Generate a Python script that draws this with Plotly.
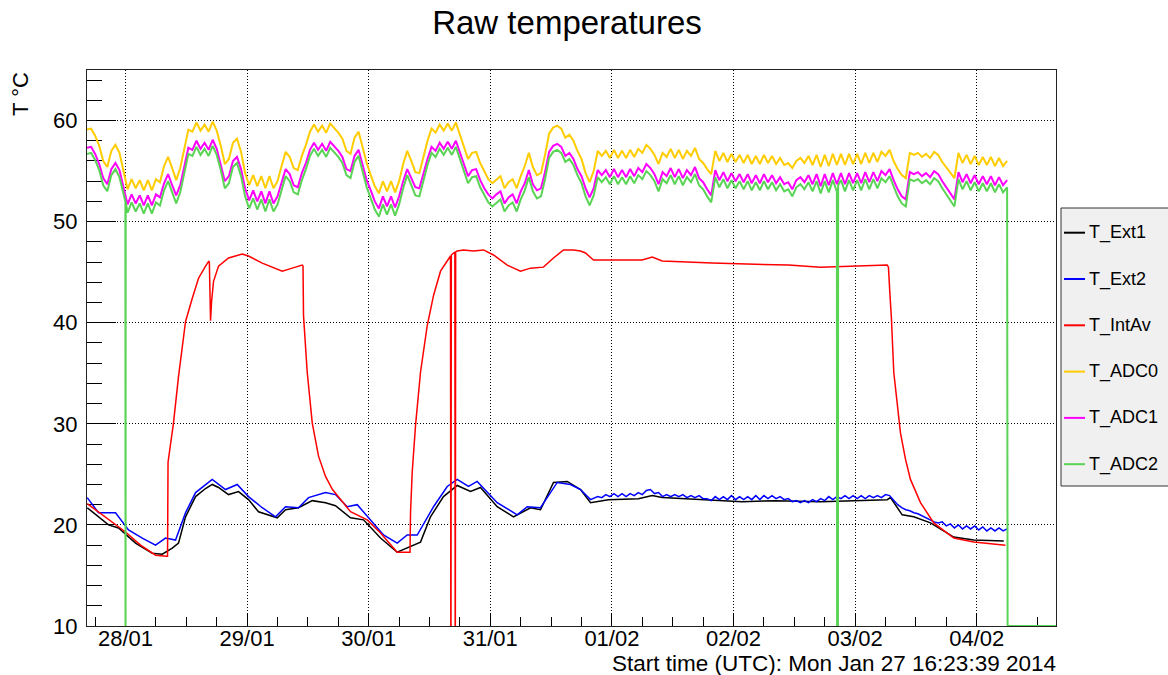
import numpy as np
import pandas as pd
import plotly.graph_objects as go

# ---------------- time reference ----------------
ORIGIN = pd.Timestamp("2014-01-28 00:00:00")   # hour 0 of every hour list below
START = pd.Timestamp("2014-01-27 16:23:39")
END_H = 183.65

# ADC read-out clock (hours from ORIGIN)
ADC_T0_H = -7.6
ADC_STEP_H = 0.8

T_ADC0 = [
    59.1, 59.2, 58.5, 57.5, 56.0, 55.4, 57.0, 57.6, 56.8, 55.0,
    53.2, 54.2, 53.3, 54.1, 53.1, 54.1, 53.1, 54.2, 53.9, 55.5,
    56.4, 55.3, 54.1, 55.3, 57.2, 59.1, 58.9, 59.8, 59.0, 59.6,
    58.9, 59.9, 59.0, 57.5, 55.7, 56.2, 57.8, 58.2, 56.9, 54.8,
    53.6, 54.6, 53.5, 54.5, 53.3, 54.5, 53.3, 54.0, 55.5, 56.9,
    56.4, 55.3, 55.1, 56.5, 57.6, 58.9, 59.6, 58.9, 59.5, 58.8,
    59.7, 59.3, 58.8, 58.2, 57.0, 56.7, 58.3, 58.9, 57.3, 55.8,
    54.6, 53.5, 52.8, 54.0, 53.0, 54.0, 52.9, 54.0, 55.7, 57.0,
    56.0, 54.9, 54.8, 56.5, 58.0, 59.2, 58.8, 59.6, 59.0, 59.7,
    59.0, 59.8, 58.6, 57.5, 56.2, 56.8, 56.9, 55.8, 55.0, 54.2,
    53.8, 54.2, 54.5, 53.3, 53.9, 54.2, 53.3, 54.5, 55.5, 56.8,
    55.4, 54.6, 54.8, 56.6, 58.7, 59.3, 59.5, 59.2, 58.3, 58.6,
    58.0, 57.0, 56.2, 54.8, 53.9, 55.0, 57.0, 56.5, 57.0, 56.3,
    57.1, 56.3, 57.0, 56.3, 57.1, 56.4, 57.2, 56.8, 57.6, 57.2,
    56.6, 55.7, 56.8, 56.4, 57.2, 56.3, 57.1, 56.2, 57.0, 56.5,
    57.3, 56.2, 55.8, 55.2, 54.7, 57.0, 56.0, 56.8, 55.9, 56.7,
    55.9, 56.6, 55.8, 56.6, 55.7, 56.5, 55.7, 56.6, 55.8, 56.5,
    55.7, 56.3, 55.6, 55.8, 55.3, 56.0, 56.3, 55.8, 56.5, 55.6,
    56.6, 55.4, 56.6, 55.5, 56.7, 55.6, 56.7, 55.6, 56.7, 55.7,
    56.7, 55.7, 56.8, 55.8, 56.8, 55.9, 56.9, 56.5, 57.1, 56.0,
    55.2, 54.6, 54.3, 56.8, 56.6, 56.8, 56.4, 56.7, 56.3, 56.9,
    56.6, 55.9, 55.4, 54.8, 54.3, 56.8, 55.8, 56.6, 55.7, 56.5,
    55.6, 56.4, 55.6, 56.4, 55.5, 56.3, 55.5, 56.0,
]

T_ADC1 = [
    57.3, 57.4, 56.7, 55.7, 54.3, 53.7, 55.2, 55.8, 55.1, 53.3,
    51.7, 52.7, 51.8, 52.6, 51.6, 52.6, 51.6, 52.7, 52.4, 53.8,
    54.7, 53.6, 52.6, 53.6, 55.4, 57.3, 57.1, 58.0, 57.2, 57.8,
    57.1, 58.1, 57.2, 55.7, 54.0, 54.5, 56.0, 56.4, 55.2, 53.3,
    52.1, 53.1, 52.0, 53.0, 51.8, 53.0, 51.8, 52.5, 53.8, 55.2,
    54.7, 53.6, 53.4, 54.8, 55.8, 57.1, 57.8, 57.1, 57.7, 57.0,
    57.9, 57.5, 57.0, 56.4, 55.2, 55.0, 56.5, 57.1, 55.5, 54.1,
    53.1, 52.0, 51.3, 52.5, 51.5, 52.5, 51.4, 52.5, 54.0, 55.2,
    54.3, 53.4, 53.3, 54.8, 56.2, 57.4, 57.0, 57.8, 57.2, 57.9,
    57.2, 58.0, 56.8, 55.7, 54.5, 55.1, 55.2, 54.1, 53.3, 52.7,
    52.3, 52.7, 53.0, 51.8, 52.4, 52.7, 51.8, 53.0, 53.8, 55.1,
    53.7, 53.1, 53.3, 54.9, 56.9, 57.5, 57.7, 57.4, 56.5, 56.8,
    56.2, 55.2, 54.5, 53.3, 52.4, 53.3, 55.1, 54.6, 55.1, 54.4,
    55.2, 54.4, 55.1, 54.4, 55.2, 54.5, 55.3, 54.9, 55.7, 55.3,
    54.7, 53.7, 54.9, 54.5, 55.3, 54.4, 55.2, 54.3, 55.1, 54.6,
    55.4, 54.3, 53.9, 53.2, 52.6, 55.1, 54.1, 54.9, 54.0, 54.8,
    54.0, 54.7, 53.9, 54.7, 53.8, 54.6, 53.8, 54.7, 53.9, 54.6,
    53.8, 54.4, 53.7, 53.9, 53.2, 54.1, 54.4, 53.9, 54.6, 53.7,
    54.7, 53.5, 54.7, 53.6, 54.8, 53.7, 54.8, 53.7, 54.8, 53.8,
    54.8, 53.8, 54.9, 53.9, 54.9, 54.0, 55.0, 54.6, 55.2, 54.1,
    53.2, 52.5, 52.2, 54.9, 54.7, 54.9, 54.5, 54.8, 54.4, 55.0,
    54.7, 54.0, 53.4, 52.7, 52.2, 54.9, 53.9, 54.7, 53.8, 54.6,
    53.7, 54.5, 53.7, 54.5, 53.6, 54.4, 53.6, 54.1,
]

T_ADC2 = [
    56.7, 56.8, 56.1, 55.1, 53.6, 53.0, 54.6, 55.2, 54.4, 52.6,
    50.9, 51.9, 51.0, 51.8, 50.8, 51.8, 50.8, 51.9, 51.6, 53.1,
    54.0, 52.9, 51.8, 52.9, 54.8, 56.7, 56.5, 57.4, 56.6, 57.2,
    56.5, 57.5, 56.6, 55.1, 53.3, 53.8, 55.4, 55.8, 54.5, 52.5,
    51.3, 52.3, 51.2, 52.2, 51.0, 52.2, 51.0, 51.7, 53.1, 54.5,
    54.0, 52.9, 52.7, 54.1, 55.2, 56.5, 57.2, 56.5, 57.1, 56.4,
    57.3, 56.9, 56.4, 55.8, 54.6, 54.3, 55.9, 56.5, 54.9, 53.4,
    52.3, 51.2, 50.5, 51.7, 50.7, 51.7, 50.6, 51.7, 53.3, 54.6,
    53.6, 52.6, 52.5, 54.1, 55.6, 56.8, 56.4, 57.2, 56.6, 57.3,
    56.6, 57.4, 56.2, 55.1, 53.8, 54.4, 54.5, 53.4, 52.6, 51.9,
    51.5, 51.9, 52.2, 51.0, 51.6, 51.9, 51.0, 52.2, 53.1, 54.4,
    53.0, 52.3, 52.5, 54.2, 56.3, 56.9, 57.1, 56.8, 55.9, 56.2,
    55.6, 54.6, 53.8, 52.5, 51.6, 52.6, 54.4, 53.9, 54.4, 53.7,
    54.5, 53.7, 54.4, 53.7, 54.5, 53.8, 54.6, 54.2, 55.0, 54.6,
    54.0, 53.0, 54.2, 53.8, 54.6, 53.7, 54.5, 53.6, 54.4, 53.9,
    54.7, 53.6, 53.2, 52.5, 51.9, 54.4, 53.4, 54.2, 53.3, 54.1,
    53.3, 54.0, 53.2, 54.0, 53.1, 53.9, 53.1, 54.0, 53.2, 53.9,
    53.1, 53.7, 53.0, 53.2, 52.5, 53.4, 53.7, 53.2, 53.9, 53.0,
    54.0, 52.8, 54.0, 52.9, 54.1, 53.0, 54.1, 53.0, 54.1, 53.1,
    54.1, 53.1, 54.2, 53.2, 54.2, 53.3, 54.3, 53.9, 54.5, 53.4,
    52.5, 51.8, 51.5, 54.2, 54.0, 54.2, 53.8, 54.1, 53.7, 54.3,
    54.0, 53.3, 52.7, 52.0, 51.5, 54.2, 53.2, 54.0, 53.1, 53.9,
    53.0, 53.8, 53.0, 53.8, 52.9, 53.7, 52.9, 53.4,
]

# extra ADC2 read-outs: the two off-scale drops (values below the axis)
ADC2_EXTRA_H = [-0.03, 0.0, 0.03, 140.45, 140.6, 140.65]
ADC2_EXTRA_V = [52.0, 0.0, 51.9, 0.0, 0.0, 53.6]
# ADC2 after the end of the run: pinned at the bottom of the scale
ADC2_TAIL_H = [174.1, 185.0]
ADC2_TAIL_V = [10.0, 10.0]

EXT1_H = [-7.56, -5.33, -3.36, -1.38, 1.97, 5.27, 7.24, 9.22, 10.46, 11.84,
          13.82, 15.79, 17.11, 18.35, 20.33, 22.3, 24.27, 26.25, 28.22, 29.94,
          31.58, 34.14, 36.85, 39.47, 41.44, 44.41, 46.97, 50.33, 53.62, 56.25,
          58.22, 60.19, 62.76, 65.46, 68.09, 70.06, 73.36, 76.57, 79.93, 81.9,
          84.47, 87.17, 89.8, 91.77, 95.32, 101.24, 103.95, 105.92, 115.06, 121.71,
          128.28, 137.16, 150.33, 150.98, 153.29, 155.58, 158.87, 163.47, 167.42, 173.34]
EXT1_V = [21.7, 20.8, 20.0, 19.7, 18.2, 17.2, 17.1, 17.7, 18.2, 20.8,
          22.8, 23.6, 24.0, 23.7, 23.0, 23.3, 22.5, 21.3, 21.0, 20.7,
          21.5, 21.7, 22.4, 22.2, 21.9, 20.7, 20.5, 18.7, 17.3, 17.9,
          18.3, 20.8, 22.8, 23.9, 23.3, 23.7, 21.8, 20.8, 21.7, 21.5,
          24.2, 24.3, 23.5, 22.2, 22.5, 22.6, 22.9, 22.7, 22.5, 22.3,
          22.4, 22.3, 22.5, 22.7, 21.0, 20.8, 20.2, 18.8, 18.5, 18.4]

EXT2_H = [-7.56, -5.33, -1.97, 0.59, 3.3, 5.92, 7.89, 9.87, 11.84, 13.82,
          17.11, 19.74, 22.04, 24.27, 26.98, 29.6, 31.58, 34.14, 36.12, 39.47,
          41.44, 43.75, 45.73, 48.35, 50.92, 53.62, 55.59, 57.57, 60.79, 63.49,
          65.46, 67.69, 69.41, 73.36, 77.3, 79.28, 81.9, 85.2, 87.82, 89.8, 91.77]
EXT2_V = [22.7, 21.2, 21.2, 19.5, 18.7, 18.0, 18.7, 18.5, 21.2, 23.2,
          24.5, 23.5, 24.0, 22.8, 21.7, 20.8, 21.8, 21.7, 22.7, 23.2,
          23.0, 21.8, 22.0, 20.5, 19.0, 18.2, 19.0, 19.0, 21.8, 23.8,
          24.5, 23.8, 24.3, 22.2, 21.0, 21.8, 21.7, 24.2, 24.0, 23.5, 22.5]
# later Ext2 values, read out on the ADC clock from sample 126 on
EXT2_LATE_FIRST = 126
EXT2_LATE_V = [
    22.8, 22.7, 23.0, 22.8, 23.1, 22.8, 23.1, 22.8, 23.1, 22.9,
    23.2, 23.0, 23.4, 23.5, 23.1, 23.2, 22.8, 23.0, 22.8, 23.0,
    22.8, 23.0, 22.7, 22.9, 22.7, 22.9, 22.6, 22.6, 22.4, 22.8,
    22.5, 22.8, 22.5, 22.9, 22.5, 22.8, 22.5, 22.8, 22.5, 22.9,
    22.5, 22.9, 22.6, 22.9, 22.6, 22.8, 22.5, 22.6, 22.3, 22.4,
    22.2, 22.4, 22.2, 22.5, 22.3, 22.6, 22.4, 22.8, 22.5, 22.8,
    22.6, 22.9, 22.6, 22.9, 22.6, 22.9, 22.6, 22.9, 22.7, 22.9,
    22.7, 23.0, 22.9, 22.4, 22.0, 21.7, 21.5, 21.4, 21.2, 21.1,
    20.9, 20.7, 20.5, 20.3, 20.2, 20.3, 19.9, 20.1, 19.7, 20.0,
    19.6, 19.9, 19.6, 19.9, 19.5, 19.8, 19.4, 19.7, 19.4, 19.7,
    19.4, 19.6,
]

INTAV_H = [-7.56, 0.0, 2.96, 5.92, 8.09, 8.29, 8.39, 9.47, 10.46, 11.84,
           13.16, 14.41, 15.79, 16.44, 16.54, 16.78, 16.97, 17.37, 18.35, 20.33,
           23.03, 24.27, 26.98, 30.93, 32.9, 34.87, 35.03, 35.13, 35.86, 36.85,
           38.09, 39.47, 40.85, 44.41, 47.7, 50.33, 53.62, 55.85, 56.15, 56.25,
           56.58, 57.23, 58.22, 59.54, 60.79, 62.17, 64.14, 64.22, 64.3, 65.0,
           65.08, 65.16, 65.46, 66.71, 68.68, 70.65, 72.63, 75.33, 77.96, 79.93,
           82.49, 84.47, 86.44, 88.41, 89.8, 90.78, 92.36, 101.97, 103.95, 105.92,
           109.87, 115.79, 130.85, 134.2, 137.16, 150.33, 150.58, 150.84, 151.17, 151.63,
           152.42, 152.95, 153.94, 154.92, 156.9, 159.52, 163.47, 167.42, 173.67]
INTAV_V = [22.1, 19.3, 18.0, 17.0, 16.9, 16.9, 26.2, 30.1, 34.7, 40.1,
           42.4, 44.4, 45.6, 46.1, 46.0, 40.2, 42.0, 44.1, 45.6, 46.4,
           46.8, 46.6, 45.9, 45.1, 45.4, 45.7, 45.6, 40.7, 35.1, 30.1,
           26.8, 24.8, 23.5, 21.3, 20.5, 19.2, 17.3, 17.3, 17.3, 21.2,
           25.2, 29.8, 35.1, 39.7, 42.7, 45.1, 46.6, 0.0, 46.7, 47.0,
           0.0, 47.0, 47.1, 47.2, 47.1, 47.2, 46.7, 45.7, 45.1, 45.4,
           45.5, 46.4, 47.2, 47.2, 47.1, 46.9, 46.2, 46.2, 46.5, 46.1,
           46.0, 45.9, 45.7, 45.6, 45.5, 45.7, 45.5, 43.1, 40.4, 35.1,
           31.8, 29.1, 26.5, 24.5, 22.2, 20.2, 18.7, 18.3, 18.0]

SERIES_NAMES = ["T_Ext1", "T_Ext2", "T_IntAv", "T_ADC0", "T_ADC1", "T_ADC2"]
SERIES_COLORS = ["#000000", "#0000ff", "#ff0000", "#ffcc00", "#ff00ff", "#59d454"]

Y_RANGE = [10, 65]
FONT = "Liberation Sans, Arial, Helvetica, sans-serif"

# figure geometry (pixels)
W, H = 1168, 675
PL, PR, PT, PB = 87, 1056, 70, 626


def to_time(hours):
    return ORIGIN + pd.to_timedelta(np.asarray(hours, dtype=float), unit="h")


def px_x(px):
    return (px - PL) / (PR - PL)


def px_y(py):
    return (PB - py) / (PB - PT)


adc_h = ADC_T0_H + ADC_STEP_H * np.arange(len(T_ADC0))

adc2_h = np.concatenate([adc_h, ADC2_EXTRA_H, ADC2_TAIL_H])
adc2_v = np.concatenate([T_ADC2, ADC2_EXTRA_V, ADC2_TAIL_V])
o = np.argsort(adc2_h, kind="stable")
adc2_h, adc2_v = adc2_h[o], adc2_v[o]

ext2_h = np.concatenate([EXT2_H, adc_h[EXT2_LATE_FIRST:EXT2_LATE_FIRST + len(EXT2_LATE_V)]])
ext2_v = np.concatenate([EXT2_V, EXT2_LATE_V])

data = [
    (EXT1_H, EXT1_V, 1.5),
    (ext2_h, ext2_v, 1.5),
    (INTAV_H, INTAV_V, 1.5),
    (adc_h, T_ADC0, 2),
    (adc_h, T_ADC1, 2),
    (adc2_h, adc2_v, 2),
]

fig = go.Figure()
for (h, v, w), name, col in zip(data, SERIES_NAMES, SERIES_COLORS):
    fig.add_trace(go.Scatter(
        x=to_time(h), y=list(v), mode="lines", name=name,
        line=dict(color=col, width=w), showlegend=False,
    ))

# ---- legend box (ROOT style, drawn at the right of the frame) ----
LEG_LEFT, LEG_RIGHT, LEG_TOP, LEG_BOTTOM = 1061, 1185, 208, 486
LEG_Y0, LEG_DY = 232.7, 46.3
shapes = [dict(type="rect", xref="paper", yref="paper",
               x0=px_x(LEG_LEFT), x1=px_x(LEG_RIGHT),
               y0=px_y(LEG_BOTTOM), y1=px_y(LEG_TOP),
               fillcolor="#f0f0f0", line=dict(color="#333333", width=1),
               layer="above")]
annotations = []
for i, (name, col) in enumerate(zip(SERIES_NAMES, SERIES_COLORS)):
    yy = LEG_Y0 + i * LEG_DY
    shapes.append(dict(type="line", xref="paper", yref="paper",
                       x0=px_x(1064), x1=px_x(1085), y0=px_y(yy), y1=px_y(yy),
                       line=dict(color=col, width=2), layer="above"))
    annotations.append(dict(text=name, xref="paper", yref="paper",
                            x=px_x(1087), y=px_y(yy), xanchor="left",
                            yanchor="middle", showarrow=False,
                            font=dict(size=18, family=FONT, color="black")))

annotations += [
    dict(text="T \u00b0C", textangle=-90, xref="paper", yref="paper",
         x=px_x(20), y=1.0, xanchor="center", yanchor="top",
         showarrow=False, font=dict(size=22, family=FONT)),
    dict(text="Start time (UTC): Mon Jan 27 16:23:39 2014",
         xref="paper", yref="paper", x=1.0, y=px_y(663.5),
         xanchor="right", yanchor="middle", xshift=2,
         showarrow=False, font=dict(size=22.5, family=FONT)),
]

x_end = ORIGIN + pd.Timedelta(hours=END_H)

fig.update_layout(
    width=W, height=H,
    margin=dict(l=PL, r=W - PR, t=PT, b=H - PB, autoexpand=False),
    paper_bgcolor="white", plot_bgcolor="white",
    font=dict(family=FONT, color="black"),
    title=dict(text="Raw temperatures", x=567 / W, xanchor="center",
               y=1 - 22 / H, yanchor="middle", font=dict(size=33, family=FONT)),
    showlegend=False,
    xaxis=dict(
        type="date", range=[START, x_end],
        tick0="2014-01-28", dtick=86400000, tickformat="%d/%m",
        ticks="inside", ticklen=12, tickcolor="black", tickwidth=1,
        showgrid=True, gridcolor="black", griddash="1px,2px", gridwidth=1,
        showline=True, linecolor="#222222", linewidth=1, mirror=True,
        zeroline=False, tickfont=dict(size=22, family=FONT),
        ticklabelstandoff=-7, layer="below traces",
        minor=dict(dtick=21600000, tick0="2014-01-28", ticks="inside",
                   ticklen=9, tickcolor="black", showgrid=False),
    ),
    yaxis=dict(
        range=Y_RANGE, tick0=10, dtick=10,
        ticks="inside", ticklen=29, tickcolor="black", tickwidth=1,
        showgrid=True, gridcolor="black", griddash="1px,2px", gridwidth=1,
        showline=True, linecolor="#222222", linewidth=1, mirror=True,
        zeroline=False, tickfont=dict(size=22, family=FONT),
        ticklabelstandoff=4, layer="below traces",
        minor=dict(dtick=2, tick0=10, ticks="inside", ticklen=15,
                   tickcolor="black", showgrid=False),
    ),
    shapes=shapes,
    annotations=annotations,
)

fig.write_html("out.html")
